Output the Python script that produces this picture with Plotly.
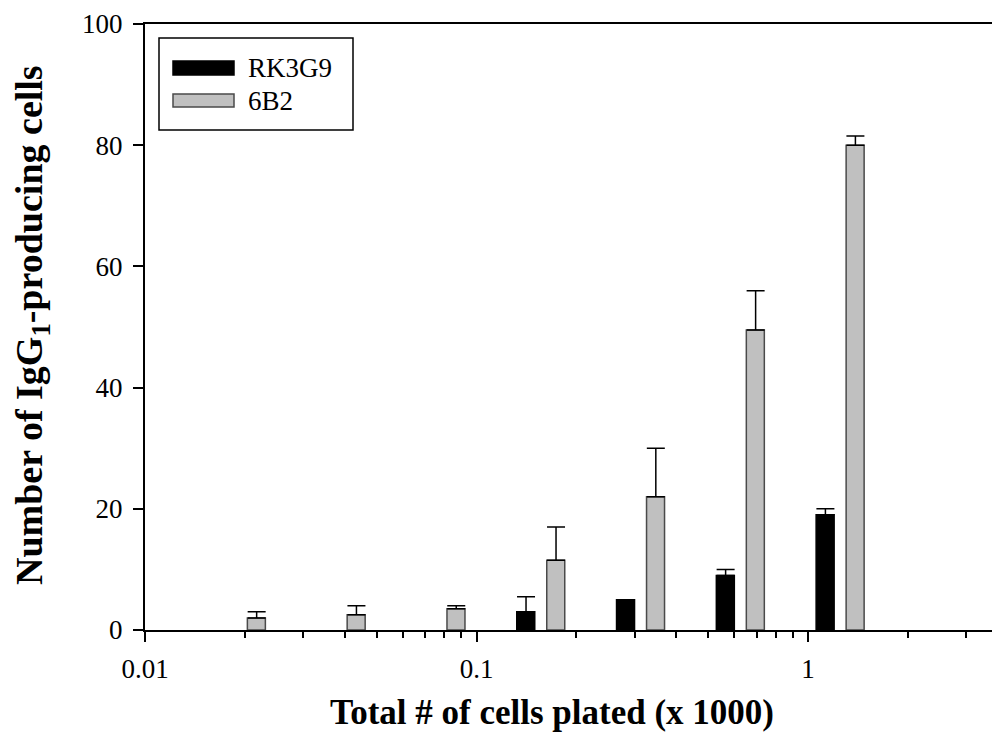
import numpy as np
import plotly.graph_objects as go

# cells plated (x 1000), two-fold dilution series
cells = [0.01953, 0.03906, 0.07813, 0.15625, 0.3125, 0.625, 1.25]

rk3g9_x = [0.15625, 0.3125, 0.625, 1.25]
rk3g9_y = [3, 5, 9, 19]
rk3g9_err = [2.5, 0, 1, 1]

b6b2_x = cells
b6b2_y = [2, 2.5, 3.5, 11.5, 22, 49.5, 80]
b6b2_err = [1, 1.5, 0.5, 5.5, 8, 6.5, 1.5]

FONT = "Liberation Serif"
OFF = 8                       # page body margin
W, H = 1000 - 2 * OFF, 744 - 2 * OFF
L, R, T, B = 145, 992, 24, 630  # plot area, page pixels
DEC = 331.5                   # pixels per decade
HALF, SHIFT = 9 / DEC, 15 / DEC  # bar half width / group shift, in decades


def px_x(p):
    return (p - L) / (R - L)


def px_y(p):
    return (B - p) / (B - T)


def bar_geom(xs, side):
    c = np.asarray(xs, dtype=float)
    left = c * 10 ** (side * SHIFT - HALF)
    right = c * 10 ** (side * SHIFT + HALF)
    return left - c, right - left


fig = go.Figure()
off, wid = bar_geom(rk3g9_x, -1)
fig.add_trace(go.Bar(
    x=rk3g9_x, y=rk3g9_y, name="RK3G9", offset=off, width=wid,
    marker=dict(color="black", line=dict(color="black", width=1.5)),
    error_y=dict(type="data", symmetric=False, array=rk3g9_err,
                 arrayminus=[0] * len(rk3g9_err), color="black", thickness=1.5, width=9),
))
off, wid = bar_geom(b6b2_x, 1)
fig.add_trace(go.Bar(
    x=b6b2_x, y=b6b2_y, name="6B2", offset=off, width=wid,
    marker=dict(color="#c0c0c0", line=dict(color="#4a4a4a", width=1.5)),
    error_y=dict(type="data", symmetric=False, array=b6b2_err,
                 arrayminus=[0] * len(b6b2_err), color="black", thickness=1.5, width=9),
))

minor_ticks = [m * 10.0 ** e for e in (-2, -1) for m in range(2, 10)] + [2, 3]

fig.update_layout(
    width=W, height=H,
    margin=dict(l=L - OFF, r=W - (R - OFF), t=T - OFF, b=H - (B - OFF)),
    plot_bgcolor="white", paper_bgcolor="white",
    barmode="overlay",
    showlegend=False,
    font=dict(family=FONT, size=27, color="black"),
    xaxis=dict(
        type="log", range=[-2, -2 + (R - L) / DEC],
        tickvals=[0.01, 0.1, 1], ticktext=["0.01", "0.1", "1"],
        ticks="outside", ticklen=10, tickwidth=2, tickcolor="black",
        minor=dict(tickvals=minor_ticks, ticks="outside", ticklen=6, tickwidth=1.5, tickcolor="black"),
        showline=True, linecolor="black", linewidth=2, mirror=True,
        showgrid=False, zeroline=False,
        tickfont=dict(size=27), ticklabelstandoff=4,
    ),
    yaxis=dict(
        range=[0, 100], tickvals=[0, 20, 40, 60, 80, 100],
        ticks="outside", ticklen=10, tickwidth=2, tickcolor="black",
        showline=True, linecolor="black", linewidth=2,
        showgrid=False, zeroline=False,
        tickfont=dict(size=27), ticklabelstandoff=5,
    ),
)

fig.add_annotation(
    text="<b>Number of IgG<sub>1</sub>-producing cells</b>", xref="paper", yref="paper",
    x=px_x(32), y=px_y(325), xanchor="center", yanchor="middle", textangle=-90,
    showarrow=False, font=dict(size=38),
)
fig.add_annotation(
    text="<b>Total # of cells plated (x 1000)</b>", xref="paper", yref="paper",
    x=px_x(552), y=px_y(712), xanchor="center", yanchor="middle",
    showarrow=False, font=dict(size=35),
)

# legend box drawn by hand to keep the long flat swatches
fig.add_shape(type="rect", xref="paper", yref="paper",
              x0=px_x(159), x1=px_x(353), y0=px_y(130), y1=px_y(38),
              line=dict(color="black", width=1.5), fillcolor="white")
legend = [("RK3G9", "black", "black", 61, 75), ("6B2", "#c0c0c0", "#4a4a4a", 94, 107)]
for label, fill, edge, top, bot in legend:
    fig.add_shape(type="rect", xref="paper", yref="paper",
                  x0=px_x(173), x1=px_x(234), y0=px_y(bot), y1=px_y(top),
                  line=dict(color=edge, width=1.5), fillcolor=fill)
    fig.add_annotation(text=label, xref="paper", yref="paper",
                       x=px_x(246), y=px_y((top + bot) / 2), xanchor="left", yanchor="middle",
                       showarrow=False, font=dict(size=27))

fig.write_html("out.html")
